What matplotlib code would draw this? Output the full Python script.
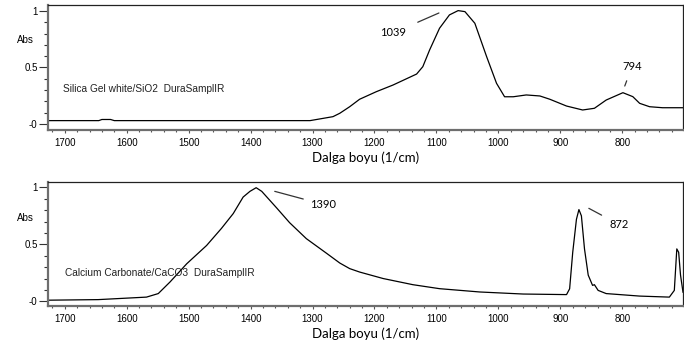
import numpy as np
import matplotlib
matplotlib.use("Agg")
import matplotlib.pyplot as plt
from matplotlib.ticker import MultipleLocator, FixedLocator

plt.rcParams['font.family'] = ['Liberation Sans', 'DejaVu Sans']

# Silica gel (SiO2) spectrum
sio2_wn = [1727, 1680, 1645, 1640, 1626, 1620, 1500, 1400, 1304, 1267, 1256, 1240, 1224,
           1197, 1170, 1132, 1122, 1111, 1095, 1079, 1065, 1054, 1038, 1019, 1003,
           990, 976, 955, 933, 917, 890, 864, 845, 826, 799, 783, 772, 756, 735, 702]
sio2_abs = [0.03, 0.03, 0.03, 0.04, 0.04, 0.03, 0.03, 0.03, 0.03, 0.065, 0.095, 0.153, 0.219,
            0.286, 0.345, 0.442, 0.507, 0.655, 0.847, 0.965, 1.003, 0.994, 0.891, 0.596, 0.36,
            0.241, 0.241, 0.257, 0.248, 0.219, 0.159, 0.124, 0.139, 0.212, 0.277, 0.242, 0.183,
            0.153, 0.144, 0.144]

# Calcium carbonate (CaCO3) spectrum
caco3_wn = [1727, 1646, 1568, 1549, 1530, 1503, 1471, 1447, 1428, 1412, 1401, 1391,
            1382, 1358, 1337, 1310, 1277, 1256, 1240, 1224, 1186, 1138, 1095, 1030, 960,
            890, 885, 880, 874, 870, 866, 861, 855, 848, 845, 839, 826, 772, 724, 716,
            712, 709, 706, 702]
caco3_abs = [0.01, 0.015, 0.037, 0.068, 0.17, 0.33, 0.49, 0.64, 0.77, 0.915, 0.965, 0.997,
             0.965, 0.82, 0.69, 0.55, 0.42, 0.336, 0.287, 0.257, 0.2, 0.146, 0.111, 0.082, 0.064,
             0.059, 0.11, 0.43, 0.72, 0.805, 0.75, 0.46, 0.23, 0.14, 0.146, 0.096, 0.068, 0.046,
             0.037, 0.096, 0.46, 0.43, 0.23, 0.08]

xticks = [1700, 1600, 1500, 1400, 1300, 1200, 1100, 1000, 900, 800]
yticks = [0, 0.5, 1]
ytick_labels = ['-0', '0.5', '1']

fig = plt.figure(figsize=(6.84, 3.46), dpi=100)
ax1 = fig.add_axes([48/684, 1-130/346, 635/684, 124.7/346])
ax2 = fig.add_axes([48/684, 1-306/346, 635/684, 124/346])

def style(ax, ylim):
    ax.set_xlim(1727, 702)
    ax.set_ylim(*ylim)
    ax.xaxis.set_major_locator(FixedLocator(xticks))
    ax.xaxis.set_minor_locator(MultipleLocator(20))
    ax.yaxis.set_major_locator(FixedLocator(yticks))
    ax.set_yticklabels(ytick_labels)
    ax.yaxis.set_minor_locator(MultipleLocator(0.1))
    ax.tick_params(axis='x', which='major', length=2.5, width=0.8, color='#555555',
                   labelsize=7, pad=3)
    ax.tick_params(axis='x', which='minor', length=1.6, width=0.8, color='#555555')
    ax.tick_params(axis='y', which='major', length=6.5, width=0.8, color='#333333',
                   labelsize=7, pad=1)
    ax.tick_params(axis='y', which='minor', length=3, width=0.8, color='#333333')
    for s in ['left', 'bottom']:
        ax.spines[s].set_color('#6e6e6e')
        ax.spines[s].set_linewidth(1.6)
    for s in ['top', 'right']:
        ax.spines[s].set_color('#222222')
        ax.spines[s].set_linewidth(0.9)
    ax.set_xlabel("Dalga boyu (1/cm)", family=['Lato', 'DejaVu Sans'], fontsize=9.5,
                  labelpad=3)

ax1.plot(sio2_wn, sio2_abs, color='black', linewidth=0.9)
style(ax1, (-0.053, 1.05))
ax2.plot(caco3_wn, caco3_abs, color='black', linewidth=0.9)
style(ax2, (-0.041, 1.047))

ann_font = dict(family=['Lato', 'DejaVu Sans'], fontsize=8)
line_kw = dict(color='#333333', linewidth=0.9)

# peak labels
ax1.annotate("1039", xy=(1096, 0.982), xytext=(1170, 0.805), ha='center', va='center',
             arrowprops=dict(arrowstyle='-', shrinkA=7, shrinkB=0, **line_kw), **ann_font)
ax1.annotate("794", xy=(796, 0.336), xytext=(784, 0.513), ha='center', va='center',
             arrowprops=dict(arrowstyle='-', shrinkA=5, shrinkB=0, **line_kw), **ann_font)
ax2.annotate("1390", xy=(1361, 0.965), xytext=(1304, 0.851), ha='left', va='center',
             arrowprops=dict(arrowstyle='-', shrinkA=3, shrinkB=0, **line_kw), **ann_font)
ax2.annotate("872", xy=(854, 0.816), xytext=(821, 0.675), ha='left', va='center',
             arrowprops=dict(arrowstyle='-', shrinkA=4, shrinkB=0, **line_kw), **ann_font)

ax1.text(1703, 0.31, "Silica Gel white/SiO2  DuraSamplIR", fontsize=7.3, va='center',
         color='#222222')
ax2.text(1700, 0.246, "Calcium Carbonate/CaCO3  DuraSamplIR", fontsize=7.3, va='center',
         color='#222222')

fig.text(25/684, 1-40/346, "Abs", fontsize=7, ha='center', va='center')
fig.text(25/684, 1-218/346, "Abs", fontsize=7, ha='center', va='center')

fig.savefig('out.png', dpi=100)
